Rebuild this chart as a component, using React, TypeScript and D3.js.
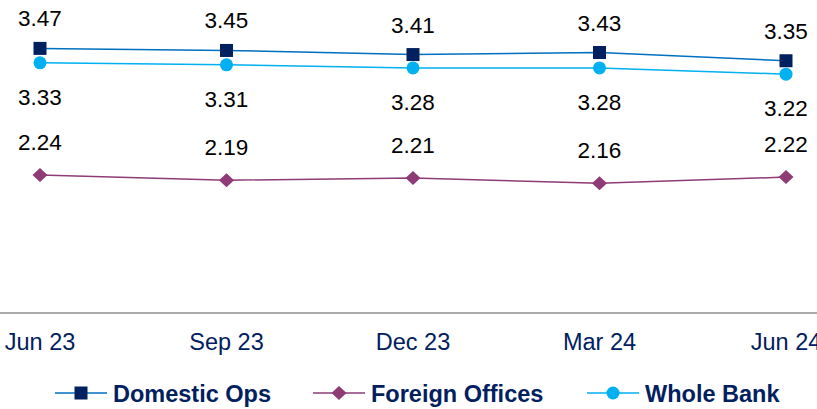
import * as d3 from "d3";

const categories = ["Jun 23", "Sep 23", "Dec 23", "Mar 24", "Jun 24"];
const domesticOps = [3.47, 3.45, 3.41, 3.43, 3.35];
const foreignOffices = [2.24, 2.19, 2.21, 2.16, 2.22];
const wholeBank = [3.33, 3.31, 3.28, 3.28, 3.22];

const W = 817;
const H = 409;
const FONT = "'Liberation Sans', Arial, sans-serif";
const NAVY = "#002060";

type Series = {
  name: string;
  values: number[];
  line: string;
  marker: string;
  shape: "square" | "diamond" | "circle";
  labelDy: number;
  legendX: number;
};

const series: Series[] = [
  { name: "Domestic Ops", values: domesticOps, line: "#0070C0", marker: NAVY, shape: "square", labelDy: -22, legendX: 55 },
  { name: "Foreign Offices", values: foreignOffices, line: "#8E3B76", marker: "#8E3B76", shape: "diamond", labelDy: -25, legendX: 313 },
  { name: "Whole Bank", values: wholeBank, line: "#00B0F0", marker: "#00B0F0", shape: "circle", labelDy: 42, legendX: 587 },
];

function Marker({ shape, x, y, color }: { shape: Series["shape"]; x: number; y: number; color: string }) {
  if (shape === "square") return <rect x={x - 6.5} y={y - 6.5} width={13} height={13} fill={color} />;
  if (shape === "circle") return <circle cx={x} cy={y} r={6.5} fill={color} />;
  return <path d={`M${x},${y - 7}L${x + 7.5},${y}L${x},${y + 7}L${x - 7.5},${y}Z`} fill={color} />;
}

export default function App() {
  const x = d3.scalePoint<string>().domain(categories).range([40, 786]);
  const y = d3.scaleLinear().domain([0.9, 3.94]).range([313, 0]);
  const line = d3
    .line<number>()
    .x((_, i) => x(categories[i])!)
    .y((d) => y(d));

  return (
    <svg width={W} height={H} style={{ position: "absolute", left: 0, top: 0 }} fontFamily={FONT}>
      <rect width={W} height={H} fill="#fff" />
      <line x1={0} x2={W} y1={y(0.9)} y2={y(0.9)} stroke="#8c8c8c" strokeWidth={1.5} />
      {categories.map((c) => (
        <text key={c} x={x(c)} y={350} textAnchor="middle" fontSize={23.5} fill={NAVY}>
          {c}
        </text>
      ))}
      {series.map((s) => (
        <g key={s.name}>
          <path d={line(s.values)!} fill="none" stroke={s.line} strokeWidth={1.5} />
          {s.values.map((v, i) => (
            <g key={i}>
              <Marker shape={s.shape} x={x(categories[i])!} y={y(v)} color={s.marker} />
              <text x={x(categories[i])} y={y(v) + s.labelDy} textAnchor="middle" fontSize={22.5} fill="#000">
                {v.toFixed(2)}
              </text>
            </g>
          ))}
        </g>
      ))}
      {series.map((s) => (
        <g key={s.name} transform={`translate(${s.legendX},393)`}>
          <line x1={0} x2={52} y1={0} y2={0} stroke={s.line} strokeWidth={1.5} />
          <Marker shape={s.shape} x={26} y={0} color={s.marker} />
          <text x={58} y={8.5} fontSize={23.5} fontWeight="bold" fill={NAVY}>
            {s.name}
          </text>
        </g>
      ))}
    </svg>
  );
}
